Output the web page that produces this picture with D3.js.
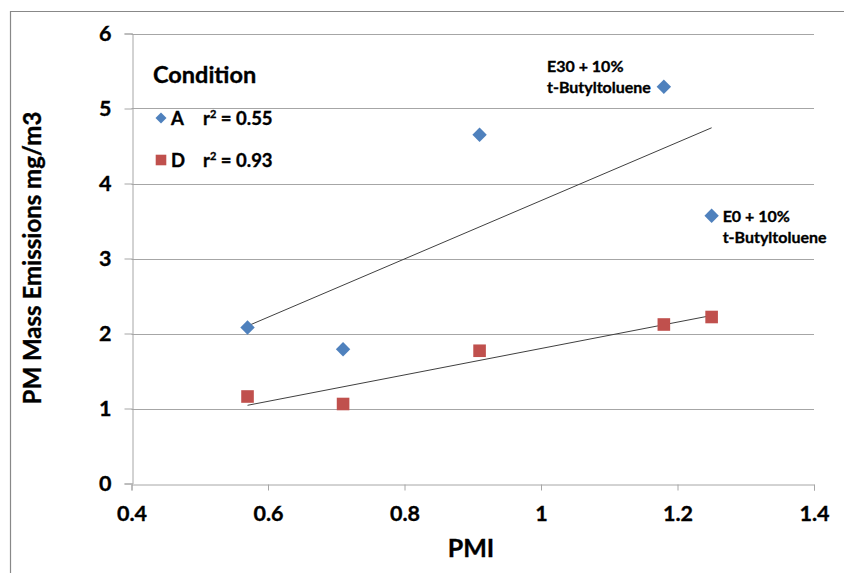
<!DOCTYPE html>
<html><head><meta charset="utf-8">
<script src="https://cdn.jsdelivr.net/npm/d3@7"></script>
<style>
html,body{margin:0;padding:0;background:#fff;}
text{font-family:Lato,"Noto Sans",sans-serif;font-weight:bold;fill:#000;stroke:#000;stroke-width:0.35px;}
</style></head>
<body><svg id="c" width="844" height="573"></svg>
<script>
const pmi = [0.57, 0.71, 0.91, 1.18, 1.25];
const condA = [2.08, 1.79, 4.65, 5.29, 3.57];
const condD = [1.16, 1.06, 1.77, 2.12, 2.22];
const xTicks = [0.4, 0.6, 0.8, 1, 1.2, 1.4];
const yTicks = [0, 1, 2, 3, 4, 5, 6];
const seriesNames = ["A", "D"];
const annotations = [
  {x: 1.18, y: 5.29, lines: ["E30 + 10%", "t-Butyltoluene"], side: "left"},
  {x: 1.25, y: 3.57, lines: ["E0 + 10%", "t-Butyltoluene"], side: "right"}
];

const svg = d3.select("#c");
const x = d3.scaleLinear().domain([0.4, 1.4]).range([131.5, 814]);
const y = d3.scaleLinear().domain([0, 6]).range([483.5, 33.5]);

const diamond = r => `M0,${-r}L${r},0L0,${r}L${-r},0Z`;
const square = r => `M${-r},${-r}H${r}V${r}H${-r}Z`;

// outer border
svg.append("path").attr("d","M10.5,580 V11.5 H850").attr("fill","none").attr("stroke","#888").attr("stroke-width",1.2);

// gridlines
svg.append("g").selectAll("line").data(yTicks.filter(d=>d>0)).join("line")
  .attr("x1", x(0.4)).attr("x2", x(1.4)).attr("y1", d=>Math.round(y(d))+0.5).attr("y2", d=>Math.round(y(d))+0.5)
  .attr("stroke","#a6a6a6").attr("stroke-width",1);

// axes
const xAxis = svg.append("g").attr("transform",`translate(0,${Math.round(y(0))+0.5})`)
  .call(d3.axisBottom(x).tickValues(xTicks).tickSize(6).tickPadding(15).tickFormat(d3.format("")));
const yAxis = svg.append("g").attr("transform",`translate(${Math.round(x(0.4))+0.5},0)`)
  .call(d3.axisLeft(y).tickValues(yTicks).tickSize(8).tickPadding(13).tickFormat(d3.format("d")));
[xAxis,yAxis].forEach(g=>{
  g.select(".domain").attr("stroke","#a6a6a6").attr("stroke-width",1);
  g.selectAll(".tick line").attr("stroke","#a6a6a6");
  g.selectAll("text").style("font-size","21.5px").style("font-family","Lato, sans-serif").style("font-weight","bold").attr("fill","#000");
});

// axis titles
svg.append("text").attr("x", 471).attr("y", 557).attr("text-anchor","middle").style("font-size","25px").text("PMI");
svg.append("text").attr("transform","translate(41,258) rotate(-90)").attr("text-anchor","middle").style("font-size","24px").text("PM Mass Emissions mg/m3");

// regression
function linreg(xs, ys){
  const mx=d3.mean(xs), my=d3.mean(ys);
  let sxy=0,sxx=0,syy=0;
  xs.forEach((v,i)=>{sxy+=(v-mx)*(ys[i]-my);sxx+=(v-mx)**2;syy+=(ys[i]-my)**2;});
  const b=sxy/sxx; return {b, a:my-b*mx, r2: sxy*sxy/(sxx*syy)};
}
const series = [
  {name: seriesNames[0], vals: condA, color:"#4F81BD", shape: diamond, r: 7.2, lr: 5.5},
  {name: seriesNames[1], vals: condD, color:"#C0504D", shape: square, r: 6.3, lr: 5.3}
];
series.forEach(s=>{
  const r = linreg(pmi, s.vals); s.r2 = r.r2;
  const x0=d3.min(pmi), x1=d3.max(pmi);
  svg.append("line").attr("x1",x(x0)).attr("y1",y(r.a+r.b*x0)).attr("x2",x(x1)).attr("y2",y(r.a+r.b*x1))
    .attr("stroke","#404040").attr("stroke-width",1);
});
series.forEach(s=>{
  svg.append("g").selectAll("path").data(s.vals).join("path")
    .attr("transform",(d,i)=>`translate(${x(pmi[i])},${y(d)})`)
    .attr("d", s.shape(s.r)).attr("fill", s.color);
});

// legend
svg.append("text").attr("x",153).attr("y",83).style("font-size","23.5px").text("Condition");
series.forEach((s,i)=>{
  const yy = 118 + i*42;
  svg.append("path").attr("transform",`translate(161,${yy})`).attr("d", s.shape(s.lr)).attr("fill",s.color);
  svg.append("text").attr("x",171).attr("y",yy+7).style("font-size","18.5px").text(s.name);
  const t = svg.append("text").attr("x",203).attr("y",yy+7).style("font-size","18.5px");
  t.append("tspan").text("r");
  t.append("tspan").attr("dy",-7).style("font-size","11px").text("2");
  t.append("tspan").attr("dy",7).text(" = " + d3.format(".2f")(s.r2));
});

// annotations
annotations.forEach(a=>{
  const px = a.side==="left" ? 547 : x(a.x)+11;
  const py = a.side==="left" ? 72 : y(a.y)+6;
  a.lines.forEach((l,i)=>{
    svg.append("text").attr("x", px).attr("y", py + i*21).style("font-size","16px").text(l);
  });
});
</script></body></html>
